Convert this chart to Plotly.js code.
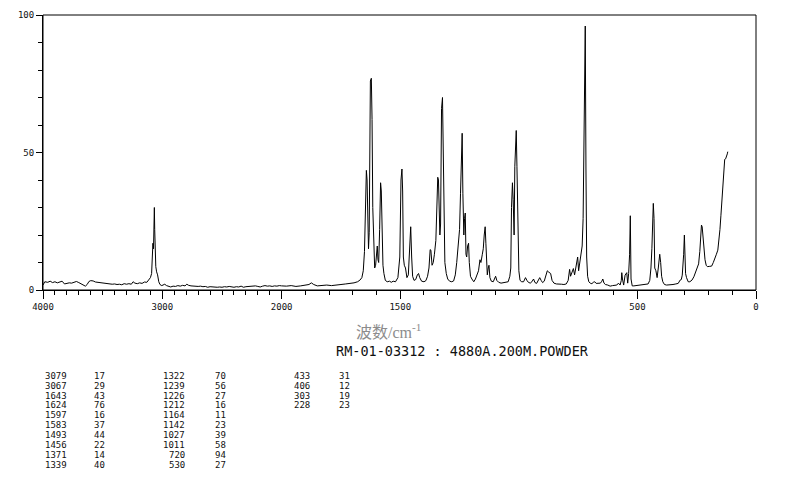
<!DOCTYPE html>
<html>
<head>
<meta charset="utf-8">
<script src="https://cdn.plot.ly/plotly-3.0.1.min.js"></script>
<style>
html,body{margin:0;padding:0;background:#fff;}
#chart{width:794px;height:482px;}
</style>
</head>
<body>
<div id="chart"></div>
<script>
// Raman spectrum, wavenumber (cm-1) vs intensity
const wavenumber = [
4000,3985,3960,3940,3920,3900,3880,3860,3840,3820,3800,3780,3760,3740,3720,3700,3680,3660,3645,3630,
3615,3600,3580,3560,3540,3520,3500,3480,3460,3440,3420,3400,3380,3360,3340,3320,3300,3280,3260,3245,
3230,3210,3190,3170,3150,3130,3115,3100,3090,3084,3079,3074,3070,3067,3064,3060,3055,3048,3040,3030,
3020,3005,2995,2980,2965,2950,2930,2910,2890,2870,2850,2830,2810,2795,2780,2760,2740,2720,2700,2680,
2660,2640,2620,2600,2580,2560,2540,2520,2500,2480,2460,2440,2420,2400,2380,2360,2340,2320,2300,2280,
2260,2240,2220,2200,2180,2160,2140,2120,2100,2080,2060,2040,2020,2000,
1980,1960,1940,1920,1900,1885,1875,1865,1850,1830,1810,1790,1770,1750,1730,1710,1695,1680,1670,1662,
1656,1651,1647,1643,1640,1637,1634,1631,1628,1626,1622,1619,1616,1612,1608,1604,1600,1597,1594,1591,
1587,1583,1580,1577,1573,1569,1563,1555,1545,1538,1530,1520,1510,1502,1497,1493,1490,1487,1483,1478,
1472,1466,1462,1458,1456,1452,1448,1442,1435,1428,1423,1418,1410,1400,1392,1385,1379,1374,1371,1366,
1361,1356,1350,1345,1342,1339,1336,1333,1330,1326,1322,1319,1316,1312,1306,1300,1292,1283,1275,1268,
1262,1256,1250,1246,1242,1239,1236,1232,1229,1226,1223,1220,1216,1212,1209,1204,1198,1190,1183,1176,
1170,1164,1160,1154,1150,1146,1142,1139,1136,1133,1129,1126,1122,1116,1108,1102,1098,1093,1085,1075,
1065,1055,1045,1038,1034,1031,1027,1024,1020,1017,1014,1011,1008,1004,1000,995,988,980,972,966,
960,952,945,938,932,925,918,912,906,900,893,886,880,874,866,860,852,842,830,820,
810,800,792,786,782,776,770,765,760,756,752,748,743,738,733,729,726,723,720,717,
714,710,705,699,692,686,680,674,665,656,650,646,641,635,625,615,605,595,587,580,
573,568,566,563,558,552,548,545,541,537,533,530,527,522,515,505,495,485,475,465,
455,448,443,439,436,433,430,427,422,417,412,409,406,402,398,393,386,377,365,350,
338,328,320,315,311,308,305,302,300,297,293,286,279,270,262,255,248,242,237,233,
230,227,224,220,215,210,205,195,187,180,173,167,161,156,152,148,145,141,138,135,
132,128,124,121,119
];
const intensity = [
1.8,3.0,2.8,3.2,2.7,3.0,2.6,2.9,3.2,2.2,2.4,2.6,2.5,2.9,3.1,2.7,2.3,1.9,1.4,2.0,
3.1,3.4,3.3,2.9,2.8,2.6,2.5,2.3,2.2,2.3,2.1,2.2,2.0,2.1,1.9,2.3,2.1,2.3,2.1,3.0,
2.5,2.3,2.6,2.4,2.9,2.8,3.6,4.5,6.0,12,17,15,20,30,22,15,8.5,6.6,5.5,3.0,
2.0,1.6,1.9,2.1,1.6,1.3,1.1,1.4,1.3,1.6,1.4,1.7,1.5,2.1,1.7,1.5,1.4,1.5,1.3,1.4,
1.2,1.3,1.0,1.2,1.1,1.2,1.0,1.1,1.0,1.2,1.1,1.3,1.1,1.0,1.2,1.1,1.4,1.0,1.2,1.3,
1.5,1.4,1.5,1.3,1.1,1.4,1.6,1.4,1.5,1.3,1.5,1.4,1.6,1.5,
1.4,1.6,1.3,1.5,1.7,2.0,2.6,2.0,1.5,1.6,1.8,1.6,1.9,2.0,2.2,2.4,2.6,3.0,3.6,4.5,
7,14,38,43.5,40,22,15,21,50,76,77,62,30,12,8,9,14,16,11,10,
22,39,36,18,9,6,3.5,3,3.2,2.8,3.2,3.0,4.5,12,40,44,36,12,9,8,
4.5,5.5,14,21,23,12,5,3.5,3.8,5.5,6,4.5,3.2,3.0,3.4,5,8,14.7,14.5,9,
10,13,18,32,41,40,30,20,24,66,70,51,18,10,6,4,3.2,3,3.3,5.5,
10,15,22,35,48,57,35,20,26,28,13,12,16,17,10,5,4,3,4,6,
7,11,10,13,15,20,23,17,9,5.5,8,9,4.5,3.2,3,4,5,3.5,2.8,2.5,
2.6,2.8,3,5,8,30,39,33,20,45,57,58,45,18,7,3.5,3,3,4.5,3.5,
2.8,2.5,3,4,2.7,2.4,3.5,4.5,3.5,2.7,3.2,5,7,6.5,6,3.5,2.5,2.2,2.0,2.1,
2.0,2.2,3.5,7.5,5,6.5,7.8,5.5,8,10,12,7,10,13,16,26,48,70,96,44,
12,5,3,2.5,2.3,2.8,3,2.4,2.5,2.5,3.2,4,2.5,2.0,1.8,1.4,1.6,1.6,1.8,2.5,
1.8,3.5,6.3,4,1.8,5.4,6.3,6.3,2.5,6,13,27,4,1.5,1.5,1.6,1.6,1.8,2.0,2.0,
2.2,3.5,8,15,26,31.5,26,8,7,4.5,8,12,13,10,5,3,2,1.8,1.8,2.0,
2.2,2.4,3.6,3.8,5.4,8.5,13,20,13,6,4.5,3.0,3.0,3.6,4.8,6.5,8,9.5,14,20,
23.6,23,20,13,11,9,8.5,8.6,8.7,10,11.4,13,14.5,18,22,27,31.4,37,42,46,
47.5,47.7,48.5,49.5,50.3
];

// Peak table
const peakWn  = [3079,3067,1643,1624,1597,1583,1493,1456,1371,1339,1322,1239,1226,1212,1164,1142,1027,1011,720,530,433,406,303,228];
const peakInt = [17,29,43,76,16,37,44,22,14,40,70,56,27,16,11,23,39,58,94,27,31,12,19,23];

// Axis tick labels
const yTickLabels = [0, 50, 100];
const xTickLabelsHigh = [4000, 3000];
const xTickLabelsLow = [2000, 1500, 500, 0];

const xTitle = '波数/cm<sup>-1</sup>';
const sampleLabel = 'RM-01-03312 : 4880A.200M.POWDER';

// ---- layout geometry (pixels) ----
const W = 794, H = 482;
const L = 43, R = 756, T = 14.5, B = 290;
const split = (281.7 - L) / (R - L);
const px2paperX = p => (p - L) / (R - L);
const px2paperY = p => (B - p) / (B - T);

const tickFont = {family: 'DejaVu Sans Mono', size: 9, color: '#111'};

const lineStyle = {color: '#000', width: 1};
const traces = [
  {x: wavenumber, y: intensity, xaxis: 'x', yaxis: 'y', type: 'scatter', mode: 'lines', line: lineStyle, hoverinfo: 'skip'},
  {x: wavenumber, y: intensity, xaxis: 'x2', yaxis: 'y', type: 'scatter', mode: 'lines', line: lineStyle, hoverinfo: 'skip'}
];

const annotations = [];
// axis title
annotations.push({xref: 'paper', yref: 'paper', x: px2paperX(388), y: px2paperY(331), text: xTitle, showarrow: false,
  font: {family: 'Liberation Serif, Noto Sans CJK SC', size: 16, color: '#8c8c8c'}, xanchor: 'center', yanchor: 'middle'});
annotations.push({xref: 'paper', yref: 'paper', x: px2paperX(334), y: px2paperY(351), text: sampleLabel, showarrow: false,
  font: {family: 'DejaVu Sans Mono', size: 13.5, color: '#111'}, xanchor: 'left', yanchor: 'middle'});

// peak table, 10 rows per column group
const groupNumX = [{x: 43, anchor: 'left'}, {x: 187, anchor: 'right'}, {x: 292, anchor: 'left'}];
const groupValX = [92, 213, 337];
const tableFont = {family: 'DejaVu Sans Mono', size: 9, color: '#111'};
for (let i = 0; i < peakWn.length; i++) {
  const g = Math.floor(i / 10), r = i % 10;
  const yy = 376 + r * 9.9;
  const nx = groupNumX[g];
  annotations.push({xref: 'paper', yref: 'paper', x: px2paperX(nx.x), y: px2paperY(yy), text: String(peakWn[i]),
    showarrow: false, font: tableFont, xanchor: nx.anchor, yanchor: 'middle'});
  annotations.push({xref: 'paper', yref: 'paper', x: px2paperX(groupValX[g]), y: px2paperY(yy), text: String(peakInt[i]),
    showarrow: false, font: tableFont, xanchor: 'left', yanchor: 'middle'});
}

const layout = {
  width: W, height: H,
  margin: {l: L, r: W - R, t: T, b: H - B, pad: 0},
  paper_bgcolor: '#fff', plot_bgcolor: '#fff',
  showlegend: false,
  xaxis: {
    domain: [0, split], range: [4000, 2000], anchor: 'y',
    showgrid: false, zeroline: false, showline: true, linecolor: '#000', linewidth: 1,
    tickmode: 'array', tickvals: xTickLabelsHigh, ticktext: xTickLabelsHigh.map(String),
    ticks: 'outside', ticklen: 8, tickcolor: '#000', tickwidth: 1, tickfont: tickFont,
    minor: {tickmode: 'linear', tick0: 0, dtick: 100, ticks: 'outside', ticklen: 4, tickcolor: '#000', tickwidth: 1, showgrid: false}
  },
  xaxis2: {
    domain: [split, 1], range: [2000, 0], anchor: 'y',
    showgrid: false, zeroline: false, showline: true, linecolor: '#000', linewidth: 1,
    tickmode: 'array', tickvals: xTickLabelsLow, ticktext: xTickLabelsLow.map(String),
    ticks: 'outside', ticklen: 8, tickcolor: '#000', tickwidth: 1, tickfont: tickFont,
    minor: {tickmode: 'linear', tick0: 0, dtick: 100, ticks: 'outside', ticklen: 4, tickcolor: '#000', tickwidth: 1, showgrid: false}
  },
  yaxis: {
    domain: [0, 1], range: [0, 100], anchor: 'x',
    showgrid: false, zeroline: false, showline: true, linecolor: '#000', linewidth: 1,
    tickmode: 'array', tickvals: yTickLabels, ticktext: yTickLabels.map(String),
    ticks: 'outside', ticklen: 6, tickcolor: '#000', tickwidth: 1, tickfont: tickFont,
    minor: {tickmode: 'linear', tick0: 0, dtick: 10, ticks: 'outside', ticklen: 4, tickcolor: '#000', tickwidth: 1, showgrid: false}
  },
  shapes: [
    {type: 'rect', xref: 'paper', yref: 'paper', x0: 0, x1: 1, y0: 0, y1: 1, line: {color: '#000', width: 1}, fillcolor: 'rgba(0,0,0,0)'}
  ],
  annotations: annotations
};

Plotly.newPlot('chart', traces, layout, {staticPlot: true, displayModeBar: false});
</script>
</body>
</html>
